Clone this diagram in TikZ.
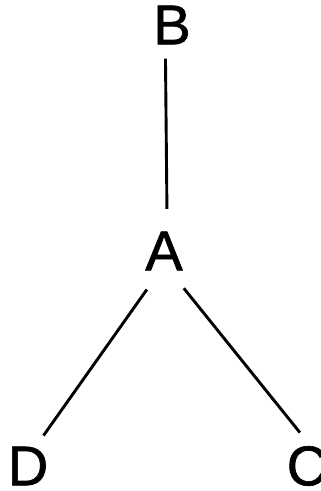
\documentclass[tikz,border=0pt]{standalone}
\usepackage{fontspec}
\setmainfont{Liberation Sans}
\newfontfamily\letterfont{Liberation Sans}[BoldFont=Liberation Sans, BoldFeatures={FakeBold=1.2}]
\usetikzlibrary{positioning}

\begin{document}
\begin{tikzpicture}[
  x=1pt, y=-1pt,
  letter/.style={circle, inner sep=0pt, minimum size=68pt, font=\letterfont\bfseries\fontsize{56}{60}\selectfont},
  hub/.style={letter, minimum size=84pt},
  edge/.style={line width=2.9pt},
]
\useasboundingbox (0,0) rectangle (321,491);

\node[letter] (B) at (172,25) {B};
\node[hub]    (A) at (164,251) {A};
\node[letter] (D) at (28,466) {D};
\node[letter] (C) at (307,466) {C};

\draw[edge] (B.259) -- (A.86);
\draw[edge] (A.246) -- (D.63);
\draw[edge] (A.298) -- (C.102);
\end{tikzpicture}
\end{document}
